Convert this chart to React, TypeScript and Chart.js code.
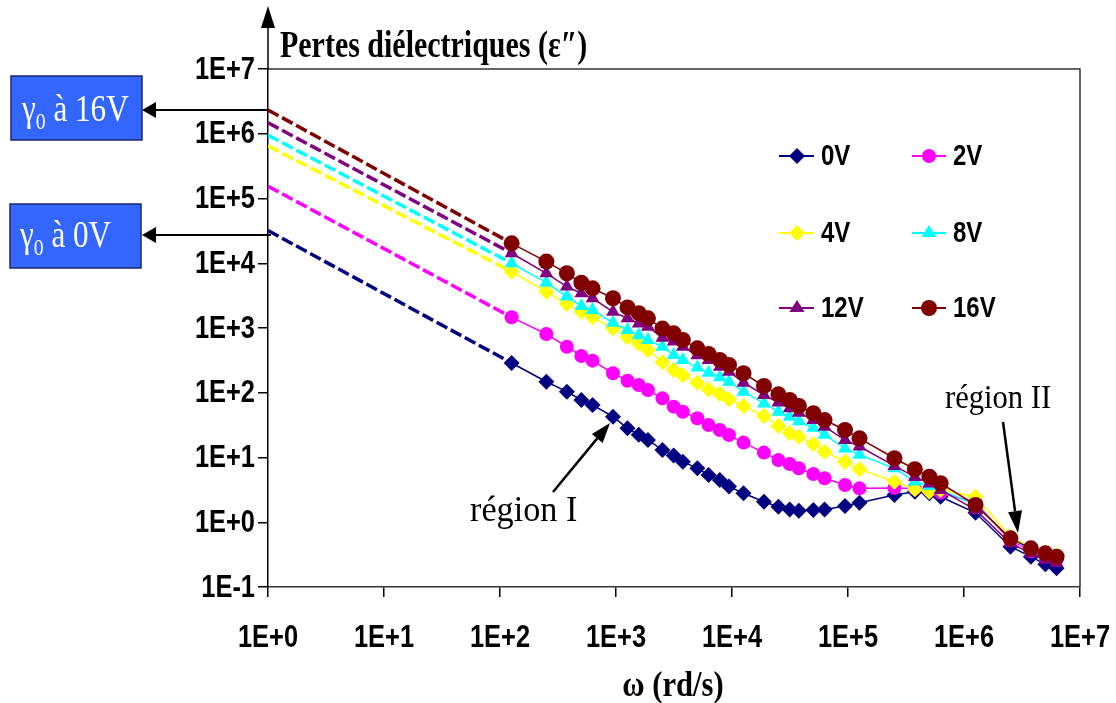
import React, { useEffect, useRef } from 'react';
import { Chart, registerables } from 'chart.js';

Chart.register(...registerables);

// angular frequency ω (rd/s) of the measurement points
const omega = [126, 251, 377, 503, 628, 942, 1257, 1571, 1885, 2513, 3142, 3770, 5027, 6283, 7854, 9425, 12566, 18850, 25133, 31416, 37699, 50265, 62832, 94248, 125664, 251327, 376991, 502655, 628319, 1256637, 2513274, 3769911, 5026548, 6283185];

// dielectric losses ε'' for each bias voltage
const eps0V = [288, 148, 104, 77.3, 64.6, 42.7, 28.2, 22.4, 18.6, 13.1, 10.7, 8.61, 6.81, 5.37, 4.5, 3.55, 2.8, 2.07, 1.74, 1.58, 1.51, 1.55, 1.58, 1.78, 2.0, 2.63, 2.96, 2.8, 2.48, 1.4, 0.419, 0.294, 0.224, 0.195];
const eps2V = [1462, 807, 514, 370, 313, 200, 153, 132, 110, 82, 61, 51, 40.3, 31.8, 26.6, 22.2, 17, 11.9, 9.14, 7.94, 6.81, 5.56, 4.78, 3.76, 3.34, 3.39, 3.31, 3.16, 2.88, 2.0, 0.525, 0.355, 0.295, 0.263];
const eps4V = [7413, 3631, 2344, 1778, 1462, 989, 718, 575, 457, 295, 224, 186, 143, 112, 95.5, 79.4, 62.4, 43.7, 30.6, 24, 20.9, 16.2, 12.3, 8.61, 6.61, 4.23, 3.24, 2.95, 3.16, 2.48, 0.6, 0.4, 0.34, 0.31];
const eps8V = [10000, 5012, 3055, 2188, 1897, 1202, 933, 776, 653, 513, 383, 321, 245, 204, 174, 148, 104, 68.5, 50.9, 42.7, 36.3, 28.8, 22.4, 13.8, 11.0, 6.81, 4.27, 3.63, 3.16, 1.86, 0.562, 0.38, 0.316, 0.282];
const eps12V = [14260, 7000, 4365, 3436, 2877, 1778, 1413, 1175, 1047, 708, 617, 513, 380, 321, 251, 211, 143, 92.3, 70.8, 57.5, 49, 38, 29.9, 18.6, 14.8, 7.41, 5.01, 3.98, 3.16, 1.55, 0.473, 0.331, 0.263, 0.237];
const eps16V = [20300, 10600, 7000, 5000, 4100, 2880, 2080, 1690, 1410, 980, 828, 653, 485, 398, 321, 269, 200, 127, 94.6, 77.3, 62.4, 48.2, 37.9, 26.6, 19.8, 9.73, 6.58, 5.06, 4.0, 1.85, 0.565, 0.396, 0.331, 0.294];

// extrapolated low-frequency values (dashed lines) at ω = 1
const gamma0 = [32000, 155000, 650000, 950000, 1480000, 2330000];
const omegaStart = 1;

const seriesLabels = ['0V', '2V', '4V', '8V', '12V', '16V'];
const seriesValues = [eps0V, eps2V, eps4V, eps8V, eps12V, eps16V];
const seriesColors = ['#000080', '#FF00FF', '#FFFF00', '#00FFFF', '#800080', '#800000'];
const seriesMarkers = ['rectRot', 'circle', 'rectRot', 'triangle', 'triangle', 'circle'];
const seriesRadius = [8, 7, 8, 8, 8, 8];

const xTicks = [1, 10, 100, 1000, 10000, 100000, 1000000, 10000000];
const xTickLabels = ['1E+0', '1E+1', '1E+2', '1E+3', '1E+4', '1E+5', '1E+6', '1E+7'];
const yTicks = [0.1, 1, 10, 100, 1000, 10000, 100000, 1000000, 10000000];
const yTickLabels = ['1E-1', '1E+0', '1E+1', '1E+2', '1E+3', '1E+4', '1E+5', '1E+6', '1E+7'];

const SERIF = "'Liberation Serif', 'Times New Roman', serif";
const SANS = "'Liberation Sans', Arial, sans-serif";

function sText(ctx: CanvasRenderingContext2D, txt: string, x: number, y: number, font: string, sx: number, align: CanvasTextAlign = 'left', color = '#000', baseline: CanvasTextBaseline = 'alphabetic') {
  ctx.save();
  ctx.font = font;
  ctx.textAlign = align;
  ctx.textBaseline = baseline;
  ctx.fillStyle = color;
  ctx.translate(x, y);
  ctx.scale(sx, 1);
  ctx.fillText(txt, 0, 0);
  ctx.restore();
}

function arrow(ctx: CanvasRenderingContext2D, x1: number, y1: number, x2: number, y2: number, head: number, half: number, lw: number) {
  const a = Math.atan2(y2 - y1, x2 - x1);
  const bx = x2 - head * Math.cos(a);
  const by = y2 - head * Math.sin(a);
  ctx.save();
  ctx.strokeStyle = '#000';
  ctx.fillStyle = '#000';
  ctx.lineWidth = lw;
  ctx.beginPath();
  ctx.moveTo(x1, y1);
  ctx.lineTo(bx, by);
  ctx.stroke();
  ctx.beginPath();
  ctx.moveTo(x2, y2);
  ctx.lineTo(bx + half * Math.sin(a), by - half * Math.cos(a));
  ctx.lineTo(bx - half * Math.sin(a), by + half * Math.cos(a));
  ctx.closePath();
  ctx.fill();
  ctx.restore();
}

function marker(ctx: CanvasRenderingContext2D, style: string, x: number, y: number, r: number, color: string) {
  ctx.save();
  ctx.fillStyle = color;
  ctx.beginPath();
  if (style === 'circle') {
    ctx.arc(x, y, r, 0, Math.PI * 2);
  } else if (style === 'rectRot') {
    ctx.moveTo(x, y - r);
    ctx.lineTo(x + r, y);
    ctx.lineTo(x, y + r);
    ctx.lineTo(x - r, y);
  } else {
    const h = r * 1.5;
    ctx.moveTo(x, y - r);
    ctx.lineTo(x + r * 0.95, y + h - r);
    ctx.lineTo(x - r * 0.95, y + h - r);
  }
  ctx.closePath();
  ctx.fill();
  ctx.restore();
}

function gammaBox(ctx: CanvasRenderingContext2D, x: number, y: number, w: number, h: number, rest: string, tx: number, ty: number) {
  ctx.save();
  ctx.fillStyle = '#3366FF';
  ctx.fillRect(x, y, w, h);
  ctx.strokeStyle = '#1a2a70';
  ctx.lineWidth = 1.5;
  ctx.strokeRect(x, y, w, h);
  ctx.translate(tx, ty);
  ctx.scale(0.82, 1);
  ctx.fillStyle = '#fff';
  ctx.textAlign = 'left';
  ctx.textBaseline = 'alphabetic';
  ctx.font = `38px ${SERIF}`;
  ctx.fillText('γ', 0, 0);
  const w1 = ctx.measureText('γ').width;
  ctx.font = `24px ${SERIF}`;
  ctx.fillText('0', w1, 8);
  const w2 = ctx.measureText('0').width;
  ctx.font = `38px ${SERIF}`;
  ctx.fillText(rest, w1 + w2, 0);
  ctx.restore();
}

const decorPlugin = {
  id: 'decor',
  afterDraw(chart: any) {
    const ctx: CanvasRenderingContext2D = chart.ctx;
    const a = chart.chartArea;
    const xs = chart.scales.x;
    const ys = chart.scales.y;
    // frame top / right
    ctx.save();
    ctx.strokeStyle = '#333';
    ctx.lineWidth = 1.5;
    ctx.beginPath();
    ctx.moveTo(a.left, a.top);
    ctx.lineTo(a.right, a.top);
    ctx.lineTo(a.right, a.bottom);
    ctx.stroke();
    ctx.restore();

    // tick labels (condensed bold sans)
    xTicks.forEach((v, i) => {
      sText(ctx, xTickLabels[i], xs.getPixelForValue(v), a.bottom + 51, `bold 31px ${SANS}`, 0.82, 'center', '#000', 'middle');
    });
    yTicks.forEach((v, i) => {
      sText(ctx, yTickLabels[i], a.left - 13, ys.getPixelForValue(v) + 1, `bold 31px ${SANS}`, 0.82, 'right', '#000', 'middle');
    });

    // y axis arrow
    arrow(ctx, a.left, a.top, a.left, 6, 22, 7, 1.5);

    // titles
    sText(ctx, 'Pertes diélectriques (ε″)', 280, 57, `bold 37px ${SERIF}`, 0.81);
    sText(ctx, 'ω (rd/s)', 673, 696, `bold 36px ${SERIF}`, 0.85, 'center');

    // gamma boxes and arrows
    gammaBox(ctx, 11, 76, 131, 64, ' à 16V', 22, 121);
    gammaBox(ctx, 10, 204, 131, 64, ' à 0V', 20, 247);
    arrow(ctx, a.left, 110, 142, 110, 14, 8, 2);
    arrow(ctx, a.left + 3, 235, 142, 235, 14, 8, 2);

    // region annotations
    sText(ctx, 'région I', 470, 521, `36px ${SERIF}`, 0.95);
    arrow(ctx, 553, 492, 610, 423, 20, 7, 2.5);
    sText(ctx, 'région II', 945, 408, `34px ${SERIF}`, 0.9);
    arrow(ctx, 1003, 422, 1018, 533, 22, 7, 2.5);

    // legend
    const cols = [[779, 814, 797, 821], [912, 946, 929, 953]];
    const rows = [156, 233, 308];
    seriesLabels.forEach((lab, i) => {
      const c = cols[i % 2];
      const y = rows[Math.floor(i / 2)];
      ctx.save();
      ctx.strokeStyle = seriesColors[i];
      ctx.lineWidth = 2;
      ctx.beginPath();
      ctx.moveTo(c[0], y);
      ctx.lineTo(c[1], y);
      ctx.stroke();
      ctx.restore();
      marker(ctx, seriesMarkers[i], c[2], y, seriesRadius[i], seriesColors[i]);
      sText(ctx, lab, c[3], y + 1, `bold 30px ${SANS}`, 0.8, 'left', '#000', 'middle');
    });
  },
};

export default function App() {
  const ref = useRef<HTMLCanvasElement>(null);
  useEffect(() => {
    const canvas = ref.current;
    if (!canvas) return;
    const datasets: any[] = [];
    seriesValues.forEach((vals, i) => {
      datasets.push({
        label: seriesLabels[i],
        data: omega.map((w, k) => ({ x: w, y: vals[k] })),
        borderColor: seriesColors[i],
        backgroundColor: seriesColors[i],
        borderWidth: 1.5,
        pointStyle: seriesMarkers[i],
        pointRadius: seriesRadius[i],
        pointBorderWidth: 0,
        pointBackgroundColor: seriesColors[i],
        tension: 0,
        order: 6 - i,
      });
    });
    seriesValues.forEach((vals, i) => {
      datasets.push({
        label: seriesLabels[i] + ' fit',
        data: [
          { x: omegaStart, y: gamma0[i] },
          { x: omega[0], y: vals[0] },
        ],
        borderColor: seriesColors[i],
        borderWidth: 3.5,
        borderDash: [12, 4],
        pointRadius: 0,
        order: 20 - i,
      });
    });
    const chart = new Chart(canvas, {
      type: 'line',
      data: { datasets },
      options: {
        animation: false,
        responsive: false,
        devicePixelRatio: 1,
        layout: { padding: { top: 69, right: 36, left: 0, bottom: 0 } },
        plugins: { legend: { display: false }, tooltip: { enabled: false } },
        scales: {
          x: {
            type: 'logarithmic',
            min: 1,
            max: 10000000,
            afterBuildTicks: (s: any) => { s.ticks = xTicks.map((v) => ({ value: v })); },
            afterFit: (s: any) => { s.height = 116; },
            ticks: { display: false },
            grid: { display: true, drawOnChartArea: false, drawTicks: true, tickLength: 10, color: '#000', lineWidth: 1.5 },
            border: { display: true, color: '#333', width: 1.5 },
          },
          y: {
            type: 'logarithmic',
            min: 0.1,
            max: 10000000,
            afterBuildTicks: (s: any) => { s.ticks = yTicks.map((v) => ({ value: v })); },
            afterFit: (s: any) => { s.width = 268; },
            ticks: { display: false },
            grid: { display: true, drawOnChartArea: false, drawTicks: true, tickLength: 10, color: '#000', lineWidth: 1.5 },
            border: { display: true, color: '#000', width: 1.5 },
          },
        },
      },
      plugins: [decorPlugin],
    } as any);
    return () => chart.destroy();
  }, []);
  return (
    <div style={{ position: 'absolute', left: 0, top: 0, width: 1116, height: 703, background: '#fff' }}>
      <canvas ref={ref} width={1116} height={703} style={{ display: 'block', width: 1116, height: 703 }} />
    </div>
  );
}
